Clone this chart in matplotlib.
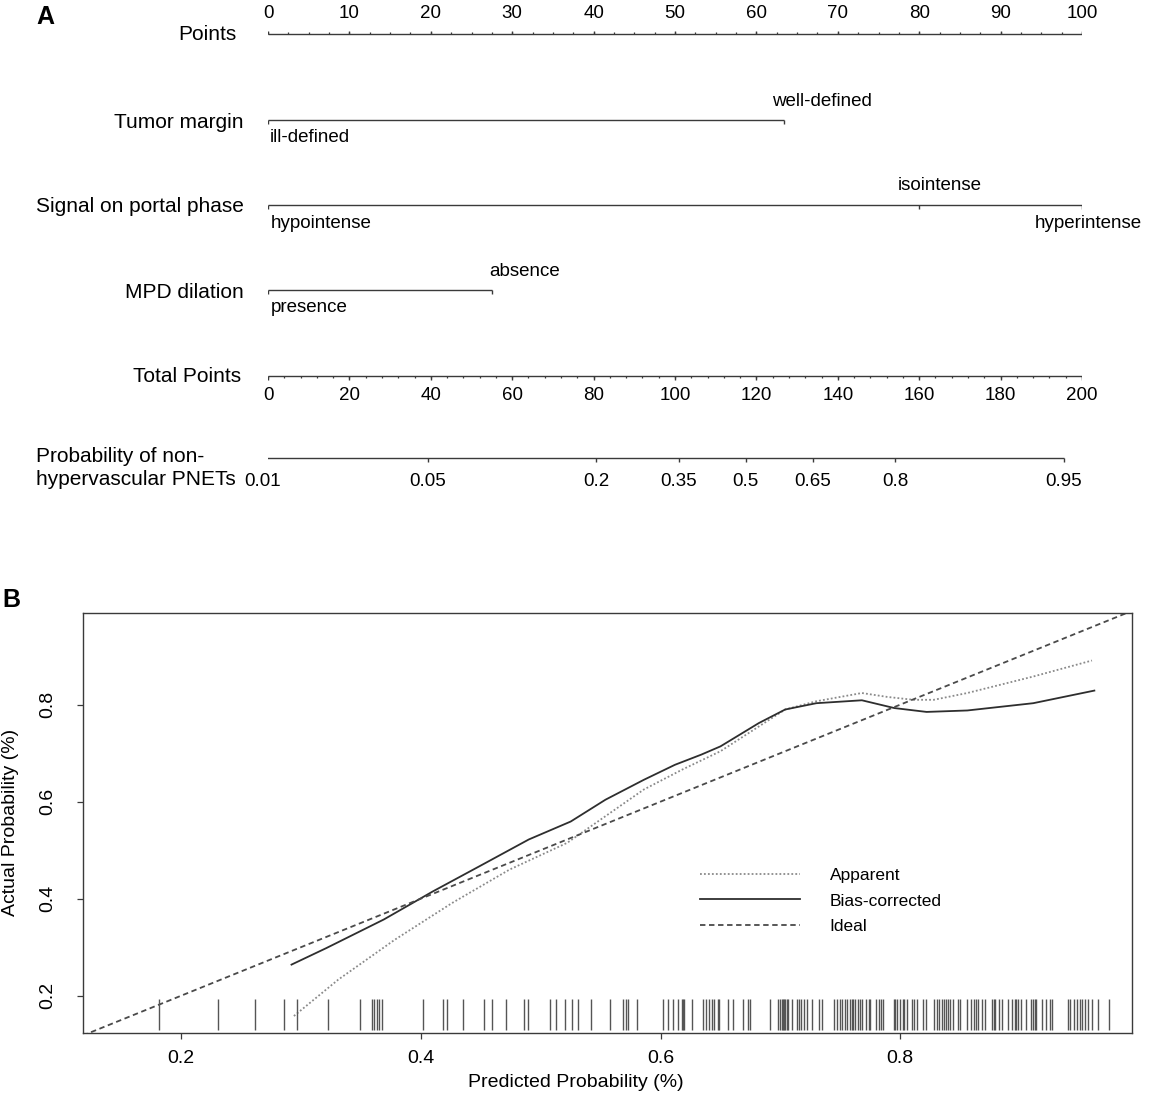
import numpy as np
import matplotlib.pyplot as plt
from matplotlib.transforms import blended_transform_factory

plt.rcParams['font.family'] = ['Liberation Sans', 'DejaVu Sans']

# ---------------- panel A: nomogram ----------------
points_ticks = [0, 10, 20, 30, 40, 50, 60, 70, 80, 90, 100]
total_ticks = [0, 20, 40, 60, 80, 100, 120, 140, 160, 180, 200]
prob_ticks = [0.01, 0.05, 0.2, 0.35, 0.5, 0.65, 0.8, 0.95]
prob_labels = ['0.01', '0.05', '0.2', '0.35', '0.5', '0.65', '0.8', '0.95']
lp_center = 117.4   # total points where probability = 0.5
lp_slope = 0.0377   # logit per total point

tumor_levels = ['ill-defined', 'well-defined']
tumor_points = [0, 63.4]
signal_levels = ['hypointense', 'isointense', 'hyperintense']
signal_points = [0, 80, 100]
mpd_levels = ['presence', 'absence']
mpd_points = [0, 27.5]

# ---------------- panel B: calibration ----------------
apparent_x = [0.294, 0.331, 0.378, 0.426, 0.474, 0.522, 0.554, 0.586, 0.618, 0.650,
              0.682, 0.704, 0.730, 0.768, 0.789, 0.811, 0.828, 0.856, 0.911, 0.960]
apparent_y = [0.158, 0.233, 0.315, 0.391, 0.460, 0.515, 0.570, 0.625, 0.666, 0.704,
              0.755, 0.790, 0.807, 0.824, 0.816, 0.810, 0.810, 0.824, 0.858, 0.891]
bias_x = [0.292, 0.321, 0.369, 0.410, 0.449, 0.490, 0.525, 0.554, 0.586, 0.612, 0.634,
          0.650, 0.682, 0.704, 0.730, 0.768, 0.795, 0.822, 0.856, 0.911, 0.962]
bias_y = [0.264, 0.298, 0.357, 0.415, 0.467, 0.522, 0.559, 0.604, 0.645, 0.676, 0.697,
          0.714, 0.762, 0.790, 0.803, 0.809, 0.793, 0.785, 0.788, 0.803, 0.829]
ideal = [0.0, 1.0]
rug_x = [0.1815, 0.2303, 0.2619, 0.2855, 0.2967, 0.3224, 0.3490, 0.3592, 0.3612, 0.3633,
         0.3653, 0.3677, 0.4019, 0.4188, 0.4217, 0.4355, 0.4527, 0.4592, 0.4708, 0.4860,
         0.4896, 0.5074, 0.5124, 0.5205, 0.5258, 0.5313, 0.5419, 0.5577, 0.5688, 0.5708,
         0.5731, 0.5805, 0.6018, 0.6059, 0.6103, 0.6147, 0.6176, 0.6191, 0.6199, 0.6264,
         0.6354, 0.6381, 0.6407, 0.6427, 0.6448, 0.6477, 0.6489, 0.6565, 0.6603, 0.6690,
         0.6726, 0.6749, 0.6913, 0.6980, 0.6997, 0.7012, 0.7021, 0.7032, 0.7041, 0.7056,
         0.7067, 0.7097, 0.7135, 0.7158, 0.7170, 0.7199, 0.7222, 0.7260, 0.7325, 0.7345,
         0.7450, 0.7474, 0.7494, 0.7515, 0.7535, 0.7556, 0.7579, 0.7596, 0.7608, 0.7620,
         0.7646, 0.7667, 0.7684, 0.7716, 0.7737, 0.7751, 0.7798, 0.7819, 0.7839, 0.7860,
         0.7947, 0.7959, 0.7976, 0.7997, 0.8020, 0.8032, 0.8055, 0.8099, 0.8117, 0.8143,
         0.8193, 0.8216, 0.8283, 0.8310, 0.8327, 0.8348, 0.8362, 0.8383, 0.8400, 0.8415,
         0.8444, 0.8479, 0.8500, 0.8561, 0.8590, 0.8614, 0.8631, 0.8649, 0.8684, 0.8707,
         0.8763, 0.8780, 0.8795, 0.8824, 0.8847, 0.8897, 0.8932, 0.8956, 0.8970, 0.8985,
         0.9005, 0.9052, 0.9093, 0.9110, 0.9122, 0.9137, 0.9186, 0.9219, 0.9254, 0.9268,
         0.9403, 0.9420, 0.9449, 0.9479, 0.9502, 0.9520, 0.9546, 0.9569, 0.9604, 0.9654,
         0.9739]

W, H = 1149, 1097
fig = plt.figure(figsize=(W / 100, H / 100), dpi=100)
LC = '#3a3a3a'

# nomogram axes: x in points units, y in pixel rows (top = 0)
axA = fig.add_axes([268 / W, 1 - 520 / H, 814 / W, 520 / H])
axA.set_xlim(0, 100)
axA.set_ylim(520, 0)
axA.axis('off')


def px2pt(px):
    return (px - 268) / 8.14


def prob_pos(p):
    tp = lp_center + np.log(p / (1 - p)) / lp_slope
    return tp / 2.0


lab_fs = 15
lev_fs = 13.5
num_fs = 13.5

# Points axis
y = 34
axA.hlines(y, 0, 100, color=LC, lw=1)
axA.vlines(np.arange(0, 100.1, 2.5), y, y - 2, color=LC, lw=0.9)
axA.vlines(points_ticks, y, y - 3.5, color=LC, lw=1)
for t in points_ticks:
    axA.text(t, 14, str(t), ha='center', va='center', fontsize=num_fs)
axA.text(px2pt(237), y, 'Points', ha='right', va='center', fontsize=lab_fs)

# categorical predictors
rows = [
    ('Tumor margin', 120, tumor_levels, tumor_points, [(2, 1), (-12, -1)]),
    ('Signal on portal phase', 205, signal_levels, signal_points, [(3, 1), (-21, -1), (-47, 1)]),
    ('MPD dilation', 290, mpd_levels, mpd_points, [(3, 1), (-3, -1)]),
]
for name, y, levels, pts, offs in rows:
    axA.hlines(y, min(pts), max(pts), color=LC, lw=1)
    axA.vlines(pts, y, y + 3.5, color=LC, lw=1)
    for lev, p, (dx, side) in zip(levels, pts, offs):
        ty = y + 18 if side > 0 else y - 19
        axA.text(p + dx / 8.14, ty, lev, ha='left', va='center', fontsize=lev_fs)
    axA.text(px2pt(244), y + 2, name, ha='right', va='center', fontsize=lab_fs)

# Total Points axis
y = 376
axA.hlines(y, 0, 100, color=LC, lw=1)
axA.vlines(np.arange(0, 200.1, 4) / 2, y, y + 2, color=LC, lw=0.9)
axA.vlines(np.array(total_ticks) / 2, y, y + 3.5, color=LC, lw=1)
for t in total_ticks:
    axA.text(t / 2, 395, str(t), ha='center', va='center', fontsize=num_fs)
axA.text(px2pt(241), y, 'Total Points', ha='right', va='center', fontsize=lab_fs)

# Probability axis
y = 458
ppos = [prob_pos(p) for p in prob_ticks]
axA.hlines(y, ppos[0], ppos[-1], color=LC, lw=1)
axA.vlines(ppos, y, y + 3.5, color=LC, lw=1)
for i, (p, lab) in enumerate(zip(ppos, prob_labels)):
    if i == 0:
        axA.text(p - 5 / 8.14, 481, lab, ha='left', va='center', fontsize=num_fs)
    else:
        axA.text(p, 481, lab, ha='center', va='center', fontsize=num_fs)
axA.text(px2pt(36), 468, 'Probability of non-\nhypervascular PNETs', ha='left',
         va='center', fontsize=lab_fs, linespacing=1.25)

fig.text(36 / W, 1 - 17 / H, 'A', fontsize=18, fontweight='bold', ha='left', va='center')
fig.text(2 / W, 1 - 600 / H, 'B', fontsize=18, fontweight='bold', ha='left', va='center')

# ---------------- calibration plot ----------------
axB = fig.add_axes([83 / W, (H - 1033) / H, 1048.5 / W, 420.5 / H])
axB.set_xlim(0.118, 0.993)
axB.set_ylim(0.123, 0.99)

axB.plot(apparent_x, apparent_y, color='#8a8a8a', lw=1.3, ls=(0, (1, 1.2)), label='Apparent')
axB.plot(bias_x, bias_y, color='#2e2e2e', lw=1.3, ls='-', label='Bias-corrected')
axB.plot(ideal, ideal, color='#4a4a4a', lw=1.3, ls=(0, (3, 2)), label='Ideal')

trans = blended_transform_factory(axB.transData, axB.transAxes)
axB.vlines(rug_x, 0.008, 0.08, transform=trans, color='#555555', lw=1)

axB.set_xticks([0.2, 0.4, 0.6, 0.8])
axB.set_yticks([0.2, 0.4, 0.6, 0.8])
axB.set_xticklabels(['0.2', '0.4', '0.6', '0.8'])
axB.set_yticklabels(['0.2', '0.4', '0.6', '0.8'], rotation=90, va='center')
axB.tick_params(axis='x', direction='out', length=4.5, width=0.9, color=LC, labelsize=14, pad=8)
axB.tick_params(axis='y', direction='out', length=4.5, width=0.9, color=LC, labelsize=14, pad=15)
for sp in axB.spines.values():
    sp.set_color(LC)
    sp.set_linewidth(1)

axB.set_xlabel('Predicted Probability (%)', fontsize=14)
axB.xaxis.set_label_coords(0.47, -0.098)
axB.set_ylabel('Actual Probability (%)', fontsize=14)
axB.yaxis.set_label_coords(-0.061, 0.5)

axB.legend(loc='upper left', bbox_to_anchor=(0.588, 0.392), frameon=False, fontsize=12.5,
           handlelength=5.8, handletextpad=1.7, labelspacing=0.58, borderpad=0, borderaxespad=0)

fig.savefig('out.png', dpi=100)
